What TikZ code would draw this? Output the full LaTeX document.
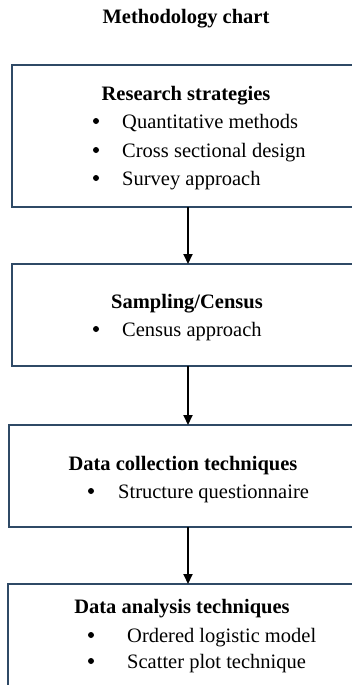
\documentclass[tikz,border=0pt]{standalone}
\usepackage{fontspec}
\setmainfont{Liberation Serif}
\usetikzlibrary{arrows.meta}
\definecolor{boxblue}{RGB}{47,74,102}
\begin{document}
\begin{tikzpicture}[x=1pt,y=-1pt,
  box/.style={draw=boxblue, line width=1.6pt, rectangle, inner sep=0pt, outer sep=0pt, anchor=north west},
  head/.style={anchor=base, inner sep=0pt, font=\fontsize{20.5}{24}\selectfont\bfseries},
  item/.style={anchor=base west, inner sep=0pt, font=\fontsize{20.5}{24}\selectfont},
  bul/.style={circle, fill=black, inner sep=0pt, minimum size=6pt},
  arr/.style={line width=2pt, -{Triangle[length=10pt,width=9pt]}}]
\useasboundingbox (0,0) rectangle (352,685);
\clip (0,0) rectangle (352,685);
\fill[white] (0,0) rectangle (352,685);

\node[head] (title) at (186,24) {Methodology chart};

% boxes
\node[box, minimum width=400pt, minimum height=142pt] (b1) at (12,65) {};
\node[box, minimum width=400pt, minimum height=102pt] (b2) at (12,264) {};
\node[box, minimum width=400pt, minimum height=102pt] (b3) at (9,425) {};
\node[box, minimum width=400pt, minimum height=160pt] (b4) at (8,584) {};

% box 1 text
\node[head] (h1) at (186,100) {Research strategies};
\node[bul] (p11) at (96,121) {};
\node[item] (t11) at (122,128) {Quantitative methods};
\node[bul] (p12) at (96,150) {};
\node[item] (t12) at (122,157) {Cross sectional design};
\node[bul] (p13) at (96,178) {};
\node[item] (t13) at (122,185) {Survey approach};

% box 2 text
\node[head] (h2) at (187,308) {Sampling/Census};
\node[bul] (p21) at (96,329) {};
\node[item] (t21) at (122,336) {Census approach};

% box 3 text
\node[head] (h3) at (183,470) {Data collection techniques};
\node[bul] (p31) at (91,491) {};
\node[item] (t31) at (118,498) {Structure questionnaire};

% box 4 text
\node[head] (h4) at (182,613) {Data analysis techniques};
\node[bul] (p41) at (91,635) {};
\node[item] (t41) at (127,642) {Ordered logistic model};
\node[bul] (p42) at (91,661) {};
\node[item] (t42) at (127,668) {Scatter plot technique};

% arrows
\coordinate (ax) at (188,0);
\draw[arr] (b1.south -| ax) -- (b2.north -| ax);
\draw[arr] (b2.south -| ax) -- (b3.north -| ax);
\draw[arr] (b3.south -| ax) -- (b4.north -| ax);
\end{tikzpicture}
\end{document}
